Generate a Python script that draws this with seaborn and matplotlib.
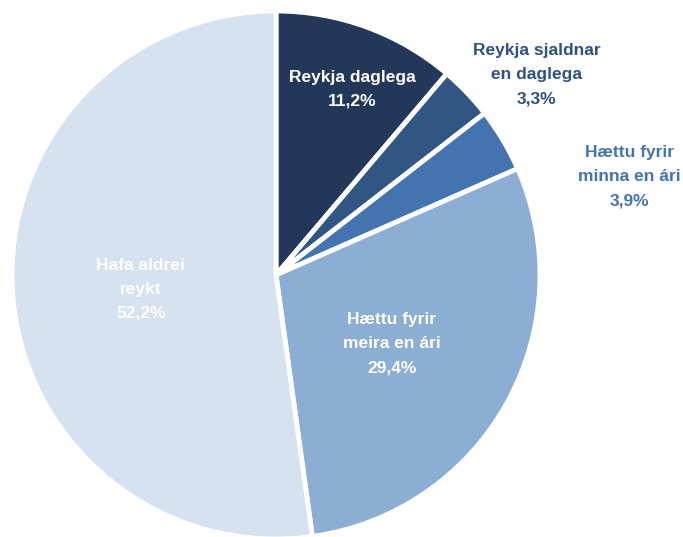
import numpy as np
import matplotlib
matplotlib.use("Agg")
import matplotlib.pyplot as plt
import seaborn as sns

categories = ["Reykja daglega", "Reykja sjaldnar\nen daglega", "Hættu fyrir\nminna en ári",
              "Hættu fyrir\nmeira en ári", "Hafa aldrei\nreykt"]
values = [11.2, 3.3, 3.9, 29.4, 52.2]
colors = ["#233858", "#315683", "#4374b0", "#8cadd4", "#d6e2ef"]
label_colors = ["white", "#2f5182", "#4374b0", "white", "white"]
# label placement: angle from 12 o'clock (clockwise, deg) and radius fraction
label_angle = [22.3, 52.5, 74.5, 120.7, 264.0]
label_radius = [0.76, 1.245, 1.39, 0.51, 0.515]

sns.set_theme(style="white")
plt.rcParams["font.family"] = ["Liberation Sans Narrow", "Liberation Sans", "DejaVu Sans"]

fig = plt.figure(figsize=(6.83, 5.37), dpi=100)
ax = fig.add_axes([12 / 683, -2 / 537, 528 / 683, 528 / 537])
ax.pie(values, colors=colors, startangle=90, counterclock=False,
       wedgeprops=dict(edgecolor="white", linewidth=3.5))
ax.set_xlim(-1, 1)
ax.set_ylim(-1, 1)
ax.set_aspect("equal")
ax.axis("off")

for cat, v, col, a, r in zip(categories, values, label_colors, label_angle, label_radius):
    t = np.deg2rad(a)
    txt = f"{cat}\n{v:.1f}%".replace(".", ",")
    ax.text(r * np.sin(t), r * np.cos(t), txt, ha="center", va="center",
            color=col, fontsize=12.5, fontweight="bold", linespacing=1.75,
            clip_on=False)

fig.savefig("out.png", dpi=100)
